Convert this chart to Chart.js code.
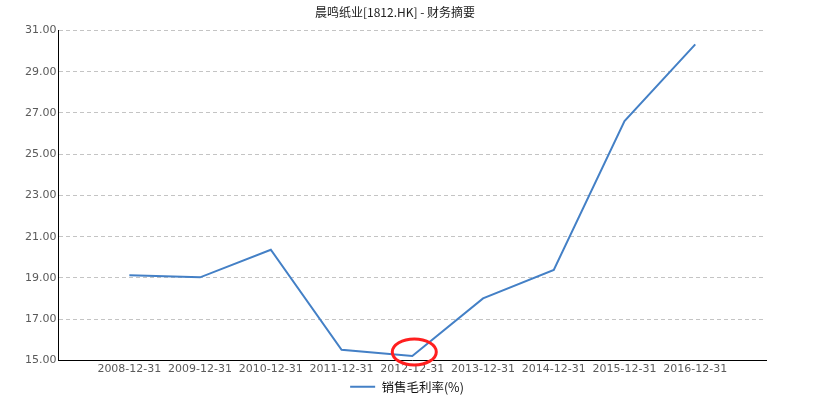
<!DOCTYPE html>
<html>
<head>
<meta charset="utf-8">
<script src="https://cdn.jsdelivr.net/npm/chart.js@4/dist/chart.umd.min.js"></script>
<style>
  html, body { margin: 0; padding: 0; background: #fff; }
  #wrap { width: 824px; height: 403px; }
</style>
</head>
<body>
<div id="wrap"><canvas id="grafico"></canvas></div>
<script>
// datas do relatório (com espaços vazios nas pontas)
const datas = ['', '2008-12-31', '2009-12-31', '2010-12-31', '2011-12-31', '2012-12-31',
  '2013-12-31', '2014-12-31', '2015-12-31', '2016-12-31', '']
const margem_bruta = [null, 19.13, 19.03, 20.37, 15.52, 15.22, 18.01, 19.39, 26.6, 30.32, null]
const ticks_y = [15, 17, 19, 21, 23, 25, 27, 29, 31]
const ponto_destacado = '2012-12-31'

// círculo vermelho em volta do ponto destacado
const circulo = {
  id: 'circulo',
  afterDatasetsDraw(chart) {
    const i = datas.indexOf(ponto_destacado)
    const x = chart.scales.x.getPixelForValue(i)
    const y = chart.scales.y.getPixelForValue(margem_bruta[i])
    const ctx = chart.ctx
    ctx.save()
    ctx.strokeStyle = '#ff1f1f'
    ctx.lineWidth = 3
    ctx.beginPath()
    ctx.ellipse(x + 2, y - 4, 22, 13, 0, 0, Math.PI * 2)
    ctx.stroke()
    ctx.restore()
  }
}

// o título fica um pouco à esquerda do centro
const ajuste_titulo = {
  id: 'ajuste_titulo',
  afterLayout(chart) {
    chart.titleBlock.right -= 24
  }
}

new Chart(document.getElementById('grafico'), {
  type: 'line',
  data: {
    labels: datas,
    datasets: [{
      label: '销售毛利率(%)',
      data: margem_bruta,
      borderColor: '#4480c6',
      backgroundColor: '#4480c6',
      borderWidth: 2,
      pointRadius: 0,
      pointStyle: 'line',
      tension: 0
    }]
  },
  options: {
    responsive: true,
    maintainAspectRatio: false,
    animation: false,
    layout: { padding: { left: 0, right: 10, top: 0, bottom: 0 } },
    scales: {
      x: {
        offset: false,
        grid: { display: false, drawTicks: false },
        border: { color: '#000', width: 1 },
        ticks: {
          autoSkip: false, maxRotation: 0, padding: 2,
          color: '#5a5a5a', font: { family: 'DejaVu Sans', size: 11 }
        },
        afterFit: s => { s.height = 16 }
      },
      y: {
        min: 15, max: 31,
        afterBuildTicks: s => { s.ticks = ticks_y.map(v => ({ value: v })) },
        grid: { color: '#c4c4c4', drawTicks: false, tickLength: 0 },
        border: { color: '#000', width: 1, dash: [4, 3] },
        ticks: {
          padding: 2, color: '#5a5a5a', font: { family: 'DejaVu Sans', size: 11 },
          callback: v => v.toFixed(2)
        },
        afterFit: s => { s.width = 58.6 }
      },
      direita: {
        position: 'right',
        min: 15, max: 31,
        grid: { display: false, drawTicks: false },
        border: { display: false },
        ticks: { display: false },
        afterFit: s => { s.width = 48 }
      }
    },
    plugins: {
      title: {
        display: true,
        text: '晨鸣纸业[1812.HK] - 财务摘要',
        color: '#222',
        font: { family: 'Noto Sans CJK SC', size: 12, weight: 'normal' },
        padding: { top: 5, bottom: 11 }
      },
      legend: {
        position: 'bottom',
        labels: {
          usePointStyle: true, pointStyleWidth: 25, boxHeight: 12, padding: 4,
          color: '#111',
          font: { family: 'Noto Sans CJK SC', size: 12.5 }
        }
      },
      tooltip: { enabled: false }
    }
  },
  plugins: [circulo, ajuste_titulo]
})
</script>
</body>
</html>
